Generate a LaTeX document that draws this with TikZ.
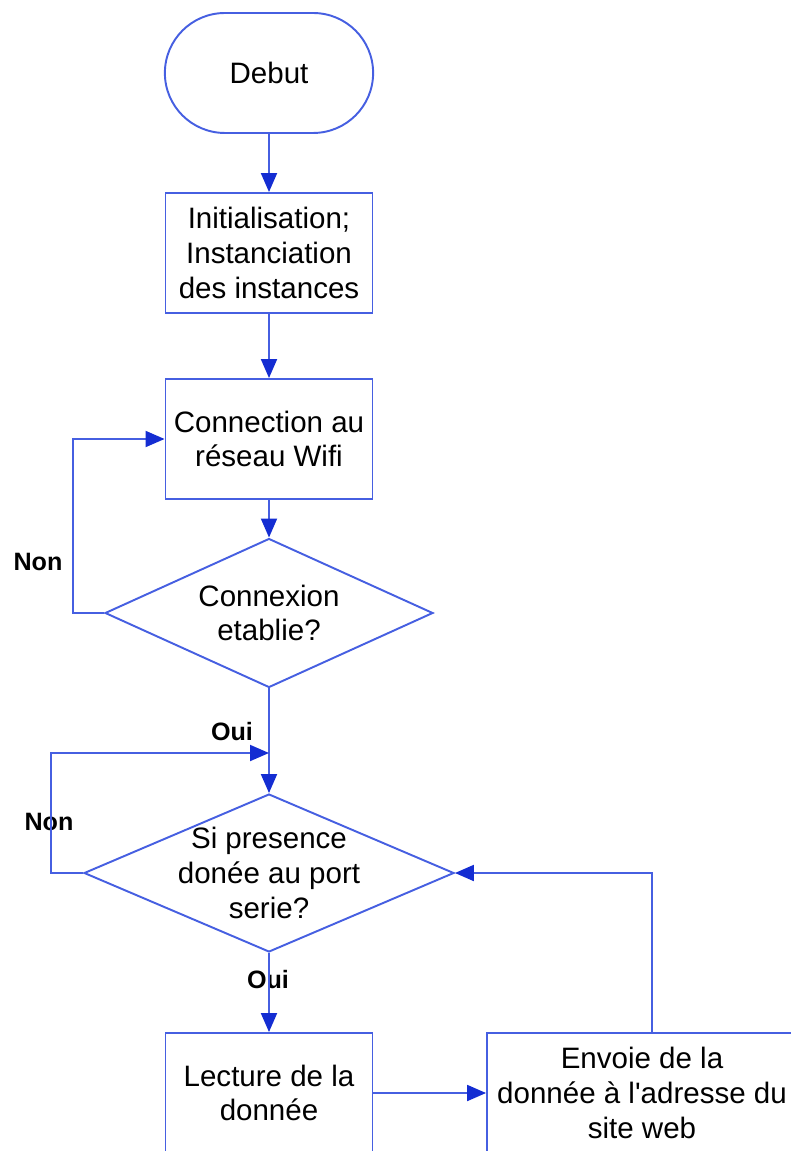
\documentclass[tikz,border=0pt]{standalone}
\usepackage{fontspec}
\setmainfont{Liberation Sans}[Ligatures=TeXOff]
\usepackage{xcolor}
\usepackage{tikz}
\usetikzlibrary{shapes.geometric, shapes.misc, arrows.meta}

\definecolor{flowline}{RGB}{70,95,225}
\definecolor{flowtip}{RGB}{20,45,210}
\newcommand{\flowfont}{\fontsize{16.8}{19.7}\selectfont}
\newcommand{\answerfont}{\bfseries\fontsize{14.3}{17}\selectfont}

\begin{document}
\begin{tikzpicture}[x=0.02cm, y=-0.02cm]
        % Define a style for the nodes
        \tikzstyle{terminal} = [rounded rectangle, draw=flowline, line width=1.1pt, minimum width=4.4cm, minimum height=2.4cm, font=\flowfont]
        \tikzstyle{process} = [rectangle, draw=flowline, line width=1.1pt, align=center, minimum width=4.14cm, minimum height=2.4cm, font=\flowfont]
        \tikzstyle{decision} = [diamond, draw=flowline, line width=1.1pt, inner sep=0pt]
        \tikzstyle{decisiontext} = [align=center, inner sep=0pt, font=\flowfont]
        \tikzstyle{answer} = [inner sep=0pt, font=\answerfont]
        \tikzstyle{arrow} = [-{Triangle[length=0.38cm, width=0.32cm, color=flowtip]}, line width=1.1pt, draw=flowline]

        \useasboundingbox (0,0) rectangle (790,1151);

        % Nodes
        \node (debut) [terminal] at (269,73) {Debut};
        \node (init) [process] at (269,253) {Initialisation;\\Instanciation\\des instances};
        \node (wifi) [process] at (269,439) {Connection au\\réseau Wifi};
        \node (testwifi) [decision, minimum width=6.56cm, minimum height=2.98cm] at (269,613) {};
        \node (testwifitxt) [decisiontext] at (testwifi) {Connexion\\etablie?};
        \node (testport) [decision, minimum width=7.4cm, minimum height=3.16cm] at (269,873) {};
        \node (testporttxt) [decisiontext] at (testport) {Si presence\\donée au port\\serie?};
        \node (lecture) [process] at (269,1093) {Lecture de la\\donnée};
        \node (envoie) [process, minimum width=6.2cm] at (642,1093) {Envoie de la\\donnée à l'adresse du\\site web};

        % Labels
        \node (non1) [answer] at (38,562) {Non};
        \node (oui1) [answer] at (232,732) {Oui};
        \node (non2) [answer] at (49,822) {Non};
        \node (oui2) [answer] at (268,980) {Oui};

        % Edges
        \draw [arrow] (debut) -- (init);
        \draw [arrow] (init) -- (wifi);
        \draw [arrow] (wifi) -- (testwifi);
        \draw [arrow] (testwifi.west) -- ++(-31,0) |- (wifi.west);
        \coordinate (retourport) at (testwifi.south |- 0,753);
        \draw [arrow] (testwifi.south) -- (testport.north);
        \draw [arrow] (testport.west) -- ++(-32,0) |- (retourport);
        \draw [arrow] (testport.south) -- (lecture.north);
        \draw [arrow] (lecture.east) -- (envoie.west);
        \draw [arrow] ([xshift=0.2cm]envoie.north) |- (testport.east);
    \end{tikzpicture}
\end{document}
